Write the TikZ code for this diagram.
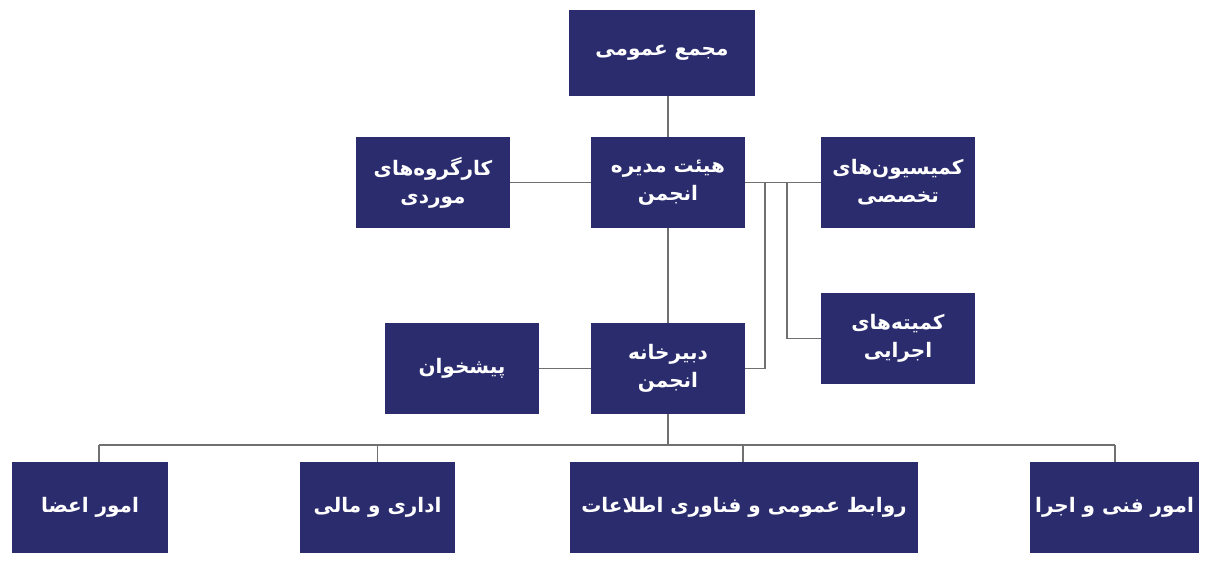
\documentclass[tikz,border=0pt]{standalone}
\usepackage{fontspec}
\newfontfamily\arabicfont[Script=Arabic]{DejaVu Sans}
\TeXXeTstate=1
\newcommand\rl[1]{\beginR #1\endR}
\definecolor{navy}{RGB}{42,44,110}
\definecolor{conn}{RGB}{112,112,112}
\tikzset{
  box/.style={rectangle, fill=navy, text=white, inner sep=0pt, align=center,
    font=\arabicfont\bfseries\fontsize{20}{28}\selectfont},
  link/.style={draw=conn, line width=1.3pt}
}
\begin{document}
\begin{tikzpicture}[x=1pt,y=-1pt]
\useasboundingbox (0,0) rectangle (1210,572);
\node[box, minimum width=186pt, minimum height=86pt] (gen) at (662,53) {\rl{مجمع عمومی}};
\node[box, minimum width=154pt, minimum height=91pt] (board) at (668,182.5) {\rl{هیئت مدیره}\\\rl{انجمن}};
\node[box, minimum width=154pt, minimum height=91pt] (work) at (433,182.5) {\rl{کارگروه‌های}\\\rl{موردی}};
\node[box, minimum width=154pt, minimum height=91pt] (comm) at (898,182.5) {\rl{کمیسیون‌های}\\\rl{تخصصی}};
\node[box, minimum width=154pt, minimum height=91pt] (exec) at (898,338.5) {\rl{کمیته‌های}\\\rl{اجرایی}};
\node[box, minimum width=154pt, minimum height=91pt] (sec) at (668,368.5) {\rl{دبیرخانه}\\\rl{انجمن}};
\node[box, minimum width=154pt, minimum height=91pt] (desk) at (462,368.5) {\rl{پیشخوان}};
\node[box, minimum width=156pt, minimum height=91pt] (m1) at (90,507.5) {\rl{امور اعضا}};
\node[box, minimum width=155pt, minimum height=91pt] (m2) at (377.5,507.5) {\rl{اداری و مالی}};
\node[box, minimum width=348pt, minimum height=91pt] (m3) at (744,507.5) {\rl{روابط عمومی و فناوری اطلاعات}};
\node[box, minimum width=169pt, minimum height=91pt] (m4) at (1114.5,507.5) {\rl{امور فنی و اجرا}};
\coordinate (j1) at (765,182.5);
\coordinate (j2) at (787,182.5);
\coordinate (bus) at (668,445);
\coordinate (d1) at (99,445);
\coordinate (d2) at (377.5,445);
\coordinate (d3) at (743,445);
\coordinate (d4) at (1115,445);
\draw[link] (board.north) -- (board.north |- gen.south);
\draw[link] (board.west) -- (work.east);
\draw[link] (board.east) -- (comm.west);
\draw[link] (j1) |- (sec.east);
\draw[link] (j2) |- (exec.west);
\draw[link] (board.south) -- (sec.north);
\draw[link] (desk.east) -- (sec.west);
\draw[link] (sec.south) -- (bus);
\draw[link] (d1) -- (d4);
\draw[link] (d1) -- (d1 |- m1.north);
\draw[link] (d2) -- (d2 |- m2.north);
\draw[link] (d3) -- (d3 |- m3.north);
\draw[link] (d4) -- (d4 |- m4.north);
\end{tikzpicture}
\end{document}
